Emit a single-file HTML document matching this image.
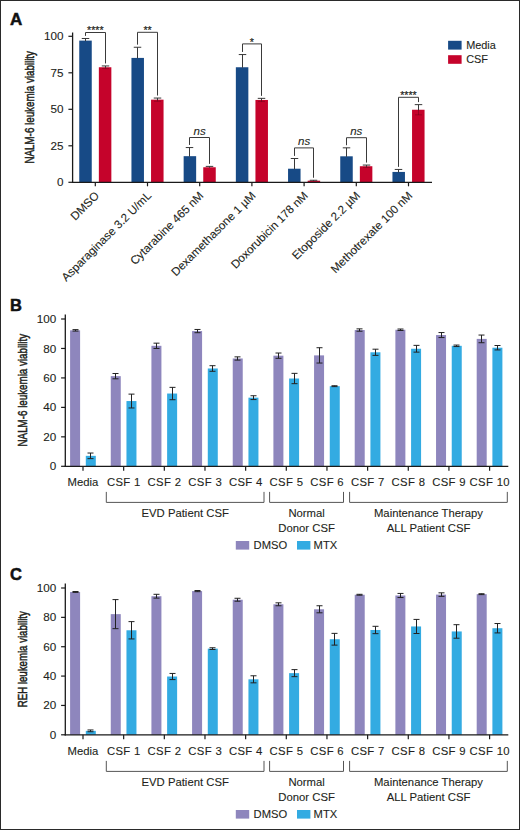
<!DOCTYPE html>
<html><head><meta charset="utf-8"><style>
html,body{margin:0;padding:0;background:#fff;}
body{width:520px;height:830px;overflow:hidden;position:relative;}
.frame{position:absolute;left:0;top:0;width:518px;height:828px;border:1px solid #2a2a2a;}
svg{position:absolute;left:0;top:0;}
text:not([stroke]){stroke:#231f20;stroke-width:0.1px;}
</style></head><body>
<svg width="520" height="830" viewBox="0 0 520 830">
<g id="A">
<text x="10" y="24.8" font-family='"Liberation Sans", sans-serif' font-weight="bold" font-size="17" fill="#111" stroke="#111" stroke-width="0.5">A</text>
<text transform="translate(34.2,107.3) rotate(-90)" text-anchor="middle" font-family='"Liberation Sans", sans-serif' font-size="13.3" fill="#231f20" stroke="#231f20" stroke-width="0.5" textLength="112.5" lengthAdjust="spacingAndGlyphs">NALM-6 leukemia viability</text>
<line x1="68.4" y1="182.30" x2="72.6" y2="182.30" stroke="#1a1a1a" stroke-width="1.2"/>
<text x="63.6" y="186.35" text-anchor="end" font-family='"Liberation Sans", sans-serif' font-size="11.7" fill="#231f20">0</text>
<line x1="68.4" y1="145.80" x2="72.6" y2="145.80" stroke="#1a1a1a" stroke-width="1.2"/>
<text x="63.6" y="149.85" text-anchor="end" font-family='"Liberation Sans", sans-serif' font-size="11.7" fill="#231f20">25</text>
<line x1="68.4" y1="109.30" x2="72.6" y2="109.30" stroke="#1a1a1a" stroke-width="1.2"/>
<text x="63.6" y="113.35" text-anchor="end" font-family='"Liberation Sans", sans-serif' font-size="11.7" fill="#231f20">50</text>
<line x1="68.4" y1="72.80" x2="72.6" y2="72.80" stroke="#1a1a1a" stroke-width="1.2"/>
<text x="63.6" y="76.85" text-anchor="end" font-family='"Liberation Sans", sans-serif' font-size="11.7" fill="#231f20">75</text>
<line x1="68.4" y1="36.30" x2="72.6" y2="36.30" stroke="#1a1a1a" stroke-width="1.2"/>
<text x="63.6" y="40.35" text-anchor="end" font-family='"Liberation Sans", sans-serif' font-size="11.7" fill="#231f20">100</text>
<rect x="79.25" y="40.61" width="12.50" height="141.69" fill="#174a86"/>
<rect x="98.85" y="67.25" width="12.50" height="115.05" fill="#c5032b"/>
<line x1="85.50" y1="38.49" x2="85.50" y2="41.11" stroke="#383838" stroke-width="1.0"/>
<line x1="81.75" y1="38.49" x2="89.25" y2="38.49" stroke="#383838" stroke-width="1.0"/>
<line x1="105.50" y1="65.94" x2="105.50" y2="67.75" stroke="#383838" stroke-width="1.0"/>
<line x1="101.75" y1="65.94" x2="109.25" y2="65.94" stroke="#383838" stroke-width="1.0"/>
<path d="M105.50,67.25 V68.57 M102.00,68.57 H109.00" stroke="#000" stroke-opacity="0.22" stroke-width="1" fill="none"/>
<path d="M85.50,35.89 V32.50 H105.50 V63.44" fill="none" stroke="#3a3a3a" stroke-width="1.0"/>
<text x="95.30" y="34.40" text-anchor="middle" font-family='"Liberation Sans", sans-serif' font-size="10.6" fill="#231f20" stroke="#231f20" stroke-width="0.2">****</text>
<line x1="95.30" y1="182.30" x2="95.30" y2="186.30" stroke="#1a1a1a" stroke-width="1.2"/>
<text transform="translate(99.80,196.30) rotate(-45)" text-anchor="end" font-family='"Liberation Sans", sans-serif' font-size="11.6" fill="#231f20">DMSO</text>
<rect x="131.45" y="57.91" width="12.50" height="124.39" fill="#174a86"/>
<rect x="151.05" y="99.66" width="12.50" height="82.64" fill="#c5032b"/>
<line x1="137.50" y1="47.25" x2="137.50" y2="58.41" stroke="#383838" stroke-width="1.0"/>
<line x1="133.75" y1="47.25" x2="141.25" y2="47.25" stroke="#383838" stroke-width="1.0"/>
<line x1="157.50" y1="98.06" x2="157.50" y2="100.16" stroke="#383838" stroke-width="1.0"/>
<line x1="153.75" y1="98.06" x2="161.25" y2="98.06" stroke="#383838" stroke-width="1.0"/>
<path d="M157.50,99.66 V101.27 M154.00,101.27 H161.00" stroke="#000" stroke-opacity="0.22" stroke-width="1" fill="none"/>
<path d="M137.50,44.65 V32.30 H157.50 V95.56" fill="none" stroke="#3a3a3a" stroke-width="1.0"/>
<text x="147.50" y="34.20" text-anchor="middle" font-family='"Liberation Sans", sans-serif' font-size="10.6" fill="#231f20" stroke="#231f20" stroke-width="0.2">**</text>
<line x1="147.50" y1="182.30" x2="147.50" y2="186.30" stroke="#1a1a1a" stroke-width="1.2"/>
<text transform="translate(152.00,196.30) rotate(-45)" text-anchor="end" font-family='"Liberation Sans", sans-serif' font-size="11.6" fill="#231f20">Asparaginase 3.2 U/mL</text>
<rect x="183.65" y="156.17" width="12.50" height="26.13" fill="#174a86"/>
<rect x="203.25" y="167.26" width="12.50" height="15.04" fill="#c5032b"/>
<line x1="189.50" y1="147.55" x2="189.50" y2="156.67" stroke="#383838" stroke-width="1.0"/>
<line x1="185.75" y1="147.55" x2="193.25" y2="147.55" stroke="#383838" stroke-width="1.0"/>
<line x1="209.50" y1="166.39" x2="209.50" y2="167.76" stroke="#383838" stroke-width="1.0"/>
<line x1="205.75" y1="166.39" x2="213.25" y2="166.39" stroke="#383838" stroke-width="1.0"/>
<path d="M189.50,144.95 V137.50 H209.50 V163.89" fill="none" stroke="#3a3a3a" stroke-width="1.0"/>
<text x="199.70" y="134.70" text-anchor="middle" font-family='"Liberation Sans", sans-serif' font-style="italic" font-size="11.5" fill="#231f20">ns</text>
<line x1="199.70" y1="182.30" x2="199.70" y2="186.30" stroke="#1a1a1a" stroke-width="1.2"/>
<text transform="translate(204.20,196.30) rotate(-45)" text-anchor="end" font-family='"Liberation Sans", sans-serif' font-size="11.6" fill="#231f20">Cytarabine 465 nM</text>
<rect x="235.85" y="67.25" width="12.50" height="115.05" fill="#174a86"/>
<rect x="255.45" y="99.96" width="12.50" height="82.34" fill="#c5032b"/>
<line x1="242.50" y1="54.55" x2="242.50" y2="67.75" stroke="#383838" stroke-width="1.0"/>
<line x1="238.75" y1="54.55" x2="246.25" y2="54.55" stroke="#383838" stroke-width="1.0"/>
<line x1="261.50" y1="98.35" x2="261.50" y2="100.46" stroke="#383838" stroke-width="1.0"/>
<line x1="257.75" y1="98.35" x2="265.25" y2="98.35" stroke="#383838" stroke-width="1.0"/>
<path d="M261.50,99.96 V101.56 M258.00,101.56 H265.00" stroke="#000" stroke-opacity="0.22" stroke-width="1" fill="none"/>
<path d="M242.50,51.95 V43.90 H261.50 V95.85" fill="none" stroke="#3a3a3a" stroke-width="1.0"/>
<text x="251.90" y="45.80" text-anchor="middle" font-family='"Liberation Sans", sans-serif' font-size="10.6" fill="#231f20" stroke="#231f20" stroke-width="0.2">*</text>
<line x1="251.90" y1="182.30" x2="251.90" y2="186.30" stroke="#1a1a1a" stroke-width="1.2"/>
<text transform="translate(256.40,196.30) rotate(-45)" text-anchor="end" font-family='"Liberation Sans", sans-serif' font-size="11.6" fill="#231f20">Dexamethasone 1 µM</text>
<rect x="288.05" y="168.72" width="12.50" height="13.58" fill="#174a86"/>
<rect x="307.65" y="180.69" width="12.50" height="1.61" fill="#c5032b"/>
<line x1="294.50" y1="158.50" x2="294.50" y2="169.22" stroke="#383838" stroke-width="1.0"/>
<line x1="290.75" y1="158.50" x2="298.25" y2="158.50" stroke="#383838" stroke-width="1.0"/>
<line x1="313.50" y1="180.26" x2="313.50" y2="181.19" stroke="#383838" stroke-width="1.0"/>
<line x1="309.75" y1="180.26" x2="317.25" y2="180.26" stroke="#383838" stroke-width="1.0"/>
<path d="M294.50,155.90 V147.90 H313.50 V177.76" fill="none" stroke="#3a3a3a" stroke-width="1.0"/>
<text x="304.10" y="145.10" text-anchor="middle" font-family='"Liberation Sans", sans-serif' font-style="italic" font-size="11.5" fill="#231f20">ns</text>
<line x1="304.10" y1="182.30" x2="304.10" y2="186.30" stroke="#1a1a1a" stroke-width="1.2"/>
<text transform="translate(308.60,196.30) rotate(-45)" text-anchor="end" font-family='"Liberation Sans", sans-serif' font-size="11.6" fill="#231f20">Doxorubicin 178 nM</text>
<rect x="340.25" y="156.31" width="12.50" height="25.99" fill="#174a86"/>
<rect x="359.85" y="166.24" width="12.50" height="16.06" fill="#c5032b"/>
<line x1="346.50" y1="147.84" x2="346.50" y2="156.81" stroke="#383838" stroke-width="1.0"/>
<line x1="342.75" y1="147.84" x2="350.25" y2="147.84" stroke="#383838" stroke-width="1.0"/>
<line x1="366.50" y1="165.07" x2="366.50" y2="166.74" stroke="#383838" stroke-width="1.0"/>
<line x1="362.75" y1="165.07" x2="370.25" y2="165.07" stroke="#383838" stroke-width="1.0"/>
<path d="M366.50,166.24 V167.41 M363.00,167.41 H370.00" stroke="#000" stroke-opacity="0.22" stroke-width="1" fill="none"/>
<path d="M346.50,145.24 V137.70 H366.50 V162.57" fill="none" stroke="#3a3a3a" stroke-width="1.0"/>
<text x="356.30" y="134.90" text-anchor="middle" font-family='"Liberation Sans", sans-serif' font-style="italic" font-size="11.5" fill="#231f20">ns</text>
<line x1="356.30" y1="182.30" x2="356.30" y2="186.30" stroke="#1a1a1a" stroke-width="1.2"/>
<text transform="translate(360.80,196.30) rotate(-45)" text-anchor="end" font-family='"Liberation Sans", sans-serif' font-size="11.6" fill="#231f20">Etoposide 2.2 µM</text>
<rect x="392.45" y="171.93" width="12.50" height="10.37" fill="#174a86"/>
<rect x="412.05" y="109.74" width="12.50" height="72.56" fill="#c5032b"/>
<line x1="398.50" y1="169.45" x2="398.50" y2="172.43" stroke="#383838" stroke-width="1.0"/>
<line x1="394.75" y1="169.45" x2="402.25" y2="169.45" stroke="#383838" stroke-width="1.0"/>
<line x1="418.50" y1="104.63" x2="418.50" y2="110.24" stroke="#383838" stroke-width="1.0"/>
<line x1="414.75" y1="104.63" x2="422.25" y2="104.63" stroke="#383838" stroke-width="1.0"/>
<path d="M418.50,109.74 V114.85 M415.00,114.85 H422.00" stroke="#000" stroke-opacity="0.22" stroke-width="1" fill="none"/>
<path d="M398.50,166.85 V97.30 H418.50 V102.13" fill="none" stroke="#3a3a3a" stroke-width="1.0"/>
<text x="408.50" y="99.20" text-anchor="middle" font-family='"Liberation Sans", sans-serif' font-size="10.6" fill="#231f20" stroke="#231f20" stroke-width="0.2">****</text>
<line x1="408.50" y1="182.30" x2="408.50" y2="186.30" stroke="#1a1a1a" stroke-width="1.2"/>
<text transform="translate(413.00,196.30) rotate(-45)" text-anchor="end" font-family='"Liberation Sans", sans-serif' font-size="11.6" fill="#231f20">Methotrexate 100 nM</text>
<line x1="72.6" y1="32.5" x2="72.6" y2="182.90" stroke="#1a1a1a" stroke-width="1.3"/>
<line x1="72.00" y1="182.30" x2="432" y2="182.30" stroke="#1a1a1a" stroke-width="1.3"/>
<rect x="448.1" y="40.8" width="13.5" height="8.8" fill="#174a86"/>
<rect x="448.1" y="55.2" width="13.5" height="8.6" fill="#c5032b"/>
<text x="466.2" y="49.0" font-family='"Liberation Sans", sans-serif' font-size="10.9" fill="#231f20">Media</text>
<text x="466.2" y="63.2" font-family='"Liberation Sans", sans-serif' font-size="10.9" fill="#231f20">CSF</text>
</g>
<g id="B">
<text x="10" y="311.20" font-family='"Liberation Sans", sans-serif' font-weight="bold" font-size="16.5" fill="#111" stroke="#111" stroke-width="0.5">B</text>
<text transform="translate(26.9,390.20) rotate(-90)" text-anchor="middle" font-family='"Liberation Sans", sans-serif' font-size="13.3" fill="#231f20" stroke="#231f20" stroke-width="0.5" textLength="112.5" lengthAdjust="spacingAndGlyphs">NALM-6 leukemia viability</text>
<line x1="61.1" y1="466.30" x2="65.3" y2="466.30" stroke="#1a1a1a" stroke-width="1.2"/>
<text x="56.3" y="470.35" text-anchor="end" font-family='"Liberation Sans", sans-serif' font-size="11.7" fill="#231f20">0</text>
<line x1="61.1" y1="436.84" x2="65.3" y2="436.84" stroke="#1a1a1a" stroke-width="1.2"/>
<text x="56.3" y="440.89" text-anchor="end" font-family='"Liberation Sans", sans-serif' font-size="11.7" fill="#231f20">20</text>
<line x1="61.1" y1="407.38" x2="65.3" y2="407.38" stroke="#1a1a1a" stroke-width="1.2"/>
<text x="56.3" y="411.43" text-anchor="end" font-family='"Liberation Sans", sans-serif' font-size="11.7" fill="#231f20">40</text>
<line x1="61.1" y1="377.92" x2="65.3" y2="377.92" stroke="#1a1a1a" stroke-width="1.2"/>
<text x="56.3" y="381.97" text-anchor="end" font-family='"Liberation Sans", sans-serif' font-size="11.7" fill="#231f20">60</text>
<line x1="61.1" y1="348.46" x2="65.3" y2="348.46" stroke="#1a1a1a" stroke-width="1.2"/>
<text x="56.3" y="352.51" text-anchor="end" font-family='"Liberation Sans", sans-serif' font-size="11.7" fill="#231f20">80</text>
<line x1="61.1" y1="319.00" x2="65.3" y2="319.00" stroke="#1a1a1a" stroke-width="1.2"/>
<text x="56.3" y="323.05" text-anchor="end" font-family='"Liberation Sans", sans-serif' font-size="11.7" fill="#231f20">100</text>
<rect x="70.10" y="330.34" width="10.00" height="135.96" fill="#8e86bd"/>
<rect x="85.80" y="455.84" width="10.00" height="10.46" fill="#33abe2"/>
<line x1="75.50" y1="329.61" x2="75.50" y2="331.08" stroke="#222" stroke-width="1"/>
<line x1="72.50" y1="329.61" x2="78.50" y2="329.61" stroke="#222" stroke-width="1"/>
<line x1="72.50" y1="331.08" x2="78.50" y2="331.08" stroke="#222" stroke-width="1"/>
<line x1="90.50" y1="453.04" x2="90.50" y2="458.64" stroke="#222" stroke-width="1"/>
<line x1="87.50" y1="453.04" x2="93.50" y2="453.04" stroke="#222" stroke-width="1"/>
<line x1="87.50" y1="458.64" x2="93.50" y2="458.64" stroke="#222" stroke-width="1"/>
<line x1="83.00" y1="466.30" x2="83.00" y2="470.80" stroke="#1a1a1a" stroke-width="1.2"/>
<text x="83.00" y="485.80" text-anchor="middle" font-family='"Liberation Sans", sans-serif' font-size="11.3" letter-spacing="0.0" fill="#231f20">Media</text>
<rect x="110.76" y="376.15" width="10.00" height="90.15" fill="#8e86bd"/>
<rect x="126.46" y="401.05" width="10.00" height="65.25" fill="#33abe2"/>
<line x1="115.50" y1="373.50" x2="115.50" y2="378.80" stroke="#222" stroke-width="1"/>
<line x1="112.50" y1="373.50" x2="118.50" y2="373.50" stroke="#222" stroke-width="1"/>
<line x1="112.50" y1="378.80" x2="118.50" y2="378.80" stroke="#222" stroke-width="1"/>
<line x1="131.50" y1="394.12" x2="131.50" y2="407.97" stroke="#222" stroke-width="1"/>
<line x1="128.50" y1="394.12" x2="134.50" y2="394.12" stroke="#222" stroke-width="1"/>
<line x1="128.50" y1="407.97" x2="134.50" y2="407.97" stroke="#222" stroke-width="1"/>
<line x1="123.66" y1="466.30" x2="123.66" y2="470.80" stroke="#1a1a1a" stroke-width="1.2"/>
<text x="123.83" y="485.80" text-anchor="middle" font-family='"Liberation Sans", sans-serif' font-size="11.3" letter-spacing="0.35" fill="#231f20">CSF 1</text>
<rect x="151.42" y="345.81" width="10.00" height="120.49" fill="#8e86bd"/>
<rect x="167.12" y="393.53" width="10.00" height="72.77" fill="#33abe2"/>
<line x1="156.50" y1="343.16" x2="156.50" y2="348.46" stroke="#222" stroke-width="1"/>
<line x1="153.50" y1="343.16" x2="159.50" y2="343.16" stroke="#222" stroke-width="1"/>
<line x1="153.50" y1="348.46" x2="159.50" y2="348.46" stroke="#222" stroke-width="1"/>
<line x1="172.50" y1="387.35" x2="172.50" y2="399.72" stroke="#222" stroke-width="1"/>
<line x1="169.50" y1="387.35" x2="175.50" y2="387.35" stroke="#222" stroke-width="1"/>
<line x1="169.50" y1="399.72" x2="175.50" y2="399.72" stroke="#222" stroke-width="1"/>
<line x1="164.32" y1="466.30" x2="164.32" y2="470.80" stroke="#1a1a1a" stroke-width="1.2"/>
<text x="164.50" y="485.80" text-anchor="middle" font-family='"Liberation Sans", sans-serif' font-size="11.3" letter-spacing="0.35" fill="#231f20">CSF 2</text>
<rect x="192.08" y="331.08" width="10.00" height="135.22" fill="#8e86bd"/>
<rect x="207.78" y="368.49" width="10.00" height="97.81" fill="#33abe2"/>
<line x1="197.50" y1="329.46" x2="197.50" y2="332.70" stroke="#222" stroke-width="1"/>
<line x1="194.50" y1="329.46" x2="200.50" y2="329.46" stroke="#222" stroke-width="1"/>
<line x1="194.50" y1="332.70" x2="200.50" y2="332.70" stroke="#222" stroke-width="1"/>
<line x1="212.50" y1="365.69" x2="212.50" y2="371.29" stroke="#222" stroke-width="1"/>
<line x1="209.50" y1="365.69" x2="215.50" y2="365.69" stroke="#222" stroke-width="1"/>
<line x1="209.50" y1="371.29" x2="215.50" y2="371.29" stroke="#222" stroke-width="1"/>
<line x1="204.98" y1="466.30" x2="204.98" y2="470.80" stroke="#1a1a1a" stroke-width="1.2"/>
<text x="205.16" y="485.80" text-anchor="middle" font-family='"Liberation Sans", sans-serif' font-size="11.3" letter-spacing="0.35" fill="#231f20">CSF 3</text>
<rect x="232.74" y="358.48" width="10.00" height="107.82" fill="#8e86bd"/>
<rect x="248.44" y="397.66" width="10.00" height="68.64" fill="#33abe2"/>
<line x1="237.50" y1="356.86" x2="237.50" y2="360.10" stroke="#222" stroke-width="1"/>
<line x1="234.50" y1="356.86" x2="240.50" y2="356.86" stroke="#222" stroke-width="1"/>
<line x1="234.50" y1="360.10" x2="240.50" y2="360.10" stroke="#222" stroke-width="1"/>
<line x1="253.50" y1="395.74" x2="253.50" y2="399.57" stroke="#222" stroke-width="1"/>
<line x1="250.50" y1="395.74" x2="256.50" y2="395.74" stroke="#222" stroke-width="1"/>
<line x1="250.50" y1="399.57" x2="256.50" y2="399.57" stroke="#222" stroke-width="1"/>
<line x1="245.64" y1="466.30" x2="245.64" y2="470.80" stroke="#1a1a1a" stroke-width="1.2"/>
<text x="245.81" y="485.80" text-anchor="middle" font-family='"Liberation Sans", sans-serif' font-size="11.3" letter-spacing="0.35" fill="#231f20">CSF 4</text>
<rect x="273.40" y="355.68" width="10.00" height="110.62" fill="#8e86bd"/>
<rect x="289.10" y="378.51" width="10.00" height="87.79" fill="#33abe2"/>
<line x1="278.50" y1="353.03" x2="278.50" y2="358.33" stroke="#222" stroke-width="1"/>
<line x1="275.50" y1="353.03" x2="281.50" y2="353.03" stroke="#222" stroke-width="1"/>
<line x1="275.50" y1="358.33" x2="281.50" y2="358.33" stroke="#222" stroke-width="1"/>
<line x1="294.50" y1="373.35" x2="294.50" y2="383.66" stroke="#222" stroke-width="1"/>
<line x1="291.50" y1="373.35" x2="297.50" y2="373.35" stroke="#222" stroke-width="1"/>
<line x1="291.50" y1="383.66" x2="297.50" y2="383.66" stroke="#222" stroke-width="1"/>
<line x1="286.30" y1="466.30" x2="286.30" y2="470.80" stroke="#1a1a1a" stroke-width="1.2"/>
<text x="286.47" y="485.80" text-anchor="middle" font-family='"Liberation Sans", sans-serif' font-size="11.3" letter-spacing="0.35" fill="#231f20">CSF 5</text>
<rect x="314.06" y="355.38" width="10.00" height="110.92" fill="#8e86bd"/>
<rect x="329.76" y="386.17" width="10.00" height="80.13" fill="#33abe2"/>
<line x1="319.50" y1="347.72" x2="319.50" y2="363.04" stroke="#222" stroke-width="1"/>
<line x1="316.50" y1="347.72" x2="322.50" y2="347.72" stroke="#222" stroke-width="1"/>
<line x1="316.50" y1="363.04" x2="322.50" y2="363.04" stroke="#222" stroke-width="1"/>
<line x1="334.50" y1="385.73" x2="334.50" y2="386.61" stroke="#222" stroke-width="1"/>
<line x1="331.50" y1="385.73" x2="337.50" y2="385.73" stroke="#222" stroke-width="1"/>
<line x1="331.50" y1="386.61" x2="337.50" y2="386.61" stroke="#222" stroke-width="1"/>
<line x1="326.96" y1="466.30" x2="326.96" y2="470.80" stroke="#1a1a1a" stroke-width="1.2"/>
<text x="327.13" y="485.80" text-anchor="middle" font-family='"Liberation Sans", sans-serif' font-size="11.3" letter-spacing="0.35" fill="#231f20">CSF 6</text>
<rect x="354.72" y="330.05" width="10.00" height="136.25" fill="#8e86bd"/>
<rect x="370.42" y="352.29" width="10.00" height="114.01" fill="#33abe2"/>
<line x1="359.50" y1="328.87" x2="359.50" y2="331.23" stroke="#222" stroke-width="1"/>
<line x1="356.50" y1="328.87" x2="362.50" y2="328.87" stroke="#222" stroke-width="1"/>
<line x1="356.50" y1="331.23" x2="362.50" y2="331.23" stroke="#222" stroke-width="1"/>
<line x1="375.50" y1="349.20" x2="375.50" y2="355.38" stroke="#222" stroke-width="1"/>
<line x1="372.50" y1="349.20" x2="378.50" y2="349.20" stroke="#222" stroke-width="1"/>
<line x1="372.50" y1="355.38" x2="378.50" y2="355.38" stroke="#222" stroke-width="1"/>
<line x1="367.62" y1="466.30" x2="367.62" y2="470.80" stroke="#1a1a1a" stroke-width="1.2"/>
<text x="367.80" y="485.80" text-anchor="middle" font-family='"Liberation Sans", sans-serif' font-size="11.3" letter-spacing="0.35" fill="#231f20">CSF 7</text>
<rect x="395.38" y="329.75" width="10.00" height="136.55" fill="#8e86bd"/>
<rect x="411.08" y="348.75" width="10.00" height="117.55" fill="#33abe2"/>
<line x1="400.50" y1="329.02" x2="400.50" y2="330.49" stroke="#222" stroke-width="1"/>
<line x1="397.50" y1="329.02" x2="403.50" y2="329.02" stroke="#222" stroke-width="1"/>
<line x1="397.50" y1="330.49" x2="403.50" y2="330.49" stroke="#222" stroke-width="1"/>
<line x1="416.50" y1="345.37" x2="416.50" y2="352.14" stroke="#222" stroke-width="1"/>
<line x1="413.50" y1="345.37" x2="419.50" y2="345.37" stroke="#222" stroke-width="1"/>
<line x1="413.50" y1="352.14" x2="419.50" y2="352.14" stroke="#222" stroke-width="1"/>
<line x1="408.28" y1="466.30" x2="408.28" y2="470.80" stroke="#1a1a1a" stroke-width="1.2"/>
<text x="408.45" y="485.80" text-anchor="middle" font-family='"Liberation Sans", sans-serif' font-size="11.3" letter-spacing="0.35" fill="#231f20">CSF 8</text>
<rect x="436.04" y="335.06" width="10.00" height="131.24" fill="#8e86bd"/>
<rect x="451.74" y="345.81" width="10.00" height="120.49" fill="#33abe2"/>
<line x1="441.50" y1="332.55" x2="441.50" y2="337.56" stroke="#222" stroke-width="1"/>
<line x1="438.50" y1="332.55" x2="444.50" y2="332.55" stroke="#222" stroke-width="1"/>
<line x1="438.50" y1="337.56" x2="444.50" y2="337.56" stroke="#222" stroke-width="1"/>
<line x1="456.50" y1="345.07" x2="456.50" y2="346.55" stroke="#222" stroke-width="1"/>
<line x1="453.50" y1="345.07" x2="459.50" y2="345.07" stroke="#222" stroke-width="1"/>
<line x1="453.50" y1="346.55" x2="459.50" y2="346.55" stroke="#222" stroke-width="1"/>
<line x1="448.94" y1="466.30" x2="448.94" y2="470.80" stroke="#1a1a1a" stroke-width="1.2"/>
<text x="449.11" y="485.80" text-anchor="middle" font-family='"Liberation Sans", sans-serif' font-size="11.3" letter-spacing="0.35" fill="#231f20">CSF 9</text>
<rect x="476.70" y="338.89" width="10.00" height="127.41" fill="#8e86bd"/>
<rect x="492.40" y="347.72" width="10.00" height="118.58" fill="#33abe2"/>
<line x1="481.50" y1="335.06" x2="481.50" y2="342.72" stroke="#222" stroke-width="1"/>
<line x1="478.50" y1="335.06" x2="484.50" y2="335.06" stroke="#222" stroke-width="1"/>
<line x1="478.50" y1="342.72" x2="484.50" y2="342.72" stroke="#222" stroke-width="1"/>
<line x1="497.50" y1="345.51" x2="497.50" y2="349.93" stroke="#222" stroke-width="1"/>
<line x1="494.50" y1="345.51" x2="500.50" y2="345.51" stroke="#222" stroke-width="1"/>
<line x1="494.50" y1="349.93" x2="500.50" y2="349.93" stroke="#222" stroke-width="1"/>
<line x1="489.60" y1="466.30" x2="489.60" y2="470.80" stroke="#1a1a1a" stroke-width="1.2"/>
<text x="489.77" y="485.80" text-anchor="middle" font-family='"Liberation Sans", sans-serif' font-size="11.3" letter-spacing="0.35" fill="#231f20">CSF 10</text>
<line x1="65.3" y1="314.50" x2="65.3" y2="466.90" stroke="#1a1a1a" stroke-width="1.3"/>
<line x1="64.70" y1="466.30" x2="508.3" y2="466.30" stroke="#1a1a1a" stroke-width="1.3"/>
<path d="M106.3,491.90 V502.40 H264.0 V491.90" fill="none" stroke="#555" stroke-width="1"/>
<path d="M269.6,491.90 V502.40 H343.5 V491.90" fill="none" stroke="#555" stroke-width="1"/>
<path d="M349.6,491.90 V502.40 H507.3 V491.90" fill="none" stroke="#555" stroke-width="1"/>
<text x="185.2" y="516.60" text-anchor="middle" font-family='"Liberation Sans", sans-serif' font-size="11.3" fill="#231f20">EVD Patient CSF</text>
<text x="306.6" y="517.40" text-anchor="middle" font-family='"Liberation Sans", sans-serif' font-size="11.3" fill="#231f20">Normal</text>
<text x="306.6" y="531.60" text-anchor="middle" font-family='"Liberation Sans", sans-serif' font-size="11.3" fill="#231f20">Donor CSF</text>
<text x="428.5" y="517.40" text-anchor="middle" font-family='"Liberation Sans", sans-serif' font-size="11.3" fill="#231f20">Maintenance Therapy</text>
<text x="428.5" y="531.60" text-anchor="middle" font-family='"Liberation Sans", sans-serif' font-size="11.3" fill="#231f20">ALL Patient CSF</text>
<rect x="235.8" y="541.00" width="13.4" height="8.6" fill="#8e86bd"/>
<text x="253.6" y="549.30" font-family='"Liberation Sans", sans-serif' font-size="11.2" fill="#231f20">DMSO</text>
<rect x="297" y="541.00" width="13.4" height="8.6" fill="#33abe2"/>
<text x="313.6" y="549.30" font-family='"Liberation Sans", sans-serif' font-size="11.2" fill="#231f20">MTX</text>
</g>
<g id="C">
<text x="10" y="580.20" font-family='"Liberation Sans", sans-serif' font-weight="bold" font-size="16.5" fill="#111" stroke="#111" stroke-width="0.5">C</text>
<text transform="translate(26.9,659.20) rotate(-90)" text-anchor="middle" font-family='"Liberation Sans", sans-serif' font-size="13.3" fill="#231f20" stroke="#231f20" stroke-width="0.5" textLength="96" lengthAdjust="spacingAndGlyphs">REH leukemia viability</text>
<line x1="61.1" y1="734.80" x2="65.3" y2="734.80" stroke="#1a1a1a" stroke-width="1.2"/>
<text x="56.3" y="738.85" text-anchor="end" font-family='"Liberation Sans", sans-serif' font-size="11.7" fill="#231f20">0</text>
<line x1="61.1" y1="705.44" x2="65.3" y2="705.44" stroke="#1a1a1a" stroke-width="1.2"/>
<text x="56.3" y="709.49" text-anchor="end" font-family='"Liberation Sans", sans-serif' font-size="11.7" fill="#231f20">20</text>
<line x1="61.1" y1="676.08" x2="65.3" y2="676.08" stroke="#1a1a1a" stroke-width="1.2"/>
<text x="56.3" y="680.13" text-anchor="end" font-family='"Liberation Sans", sans-serif' font-size="11.7" fill="#231f20">40</text>
<line x1="61.1" y1="646.72" x2="65.3" y2="646.72" stroke="#1a1a1a" stroke-width="1.2"/>
<text x="56.3" y="650.77" text-anchor="end" font-family='"Liberation Sans", sans-serif' font-size="11.7" fill="#231f20">60</text>
<line x1="61.1" y1="617.36" x2="65.3" y2="617.36" stroke="#1a1a1a" stroke-width="1.2"/>
<text x="56.3" y="621.41" text-anchor="end" font-family='"Liberation Sans", sans-serif' font-size="11.7" fill="#231f20">80</text>
<line x1="61.1" y1="588.00" x2="65.3" y2="588.00" stroke="#1a1a1a" stroke-width="1.2"/>
<text x="56.3" y="592.05" text-anchor="end" font-family='"Liberation Sans", sans-serif' font-size="11.7" fill="#231f20">100</text>
<rect x="70.10" y="591.96" width="10.00" height="142.84" fill="#8e86bd"/>
<rect x="85.80" y="730.84" width="10.00" height="3.96" fill="#33abe2"/>
<line x1="75.50" y1="591.52" x2="75.50" y2="592.40" stroke="#222" stroke-width="1"/>
<line x1="72.50" y1="591.52" x2="78.50" y2="591.52" stroke="#222" stroke-width="1"/>
<line x1="72.50" y1="592.40" x2="78.50" y2="592.40" stroke="#222" stroke-width="1"/>
<line x1="90.50" y1="729.96" x2="90.50" y2="731.72" stroke="#222" stroke-width="1"/>
<line x1="87.50" y1="729.96" x2="93.50" y2="729.96" stroke="#222" stroke-width="1"/>
<line x1="87.50" y1="731.72" x2="93.50" y2="731.72" stroke="#222" stroke-width="1"/>
<line x1="83.00" y1="734.80" x2="83.00" y2="739.30" stroke="#1a1a1a" stroke-width="1.2"/>
<text x="83.00" y="754.80" text-anchor="middle" font-family='"Liberation Sans", sans-serif' font-size="11.3" letter-spacing="0.0" fill="#231f20">Media</text>
<rect x="110.76" y="614.13" width="10.00" height="120.67" fill="#8e86bd"/>
<rect x="126.46" y="630.28" width="10.00" height="104.52" fill="#33abe2"/>
<line x1="115.50" y1="599.60" x2="115.50" y2="628.66" stroke="#222" stroke-width="1"/>
<line x1="112.50" y1="599.60" x2="118.50" y2="599.60" stroke="#222" stroke-width="1"/>
<line x1="112.50" y1="628.66" x2="118.50" y2="628.66" stroke="#222" stroke-width="1"/>
<line x1="131.50" y1="621.62" x2="131.50" y2="638.94" stroke="#222" stroke-width="1"/>
<line x1="128.50" y1="621.62" x2="134.50" y2="621.62" stroke="#222" stroke-width="1"/>
<line x1="128.50" y1="638.94" x2="134.50" y2="638.94" stroke="#222" stroke-width="1"/>
<line x1="123.66" y1="734.80" x2="123.66" y2="739.30" stroke="#1a1a1a" stroke-width="1.2"/>
<text x="123.83" y="754.80" text-anchor="middle" font-family='"Liberation Sans", sans-serif' font-size="11.3" letter-spacing="0.35" fill="#231f20">CSF 1</text>
<rect x="151.42" y="596.22" width="10.00" height="138.58" fill="#8e86bd"/>
<rect x="167.12" y="676.52" width="10.00" height="58.28" fill="#33abe2"/>
<line x1="156.50" y1="594.31" x2="156.50" y2="598.13" stroke="#222" stroke-width="1"/>
<line x1="153.50" y1="594.31" x2="159.50" y2="594.31" stroke="#222" stroke-width="1"/>
<line x1="153.50" y1="598.13" x2="159.50" y2="598.13" stroke="#222" stroke-width="1"/>
<line x1="172.50" y1="673.44" x2="172.50" y2="679.60" stroke="#222" stroke-width="1"/>
<line x1="169.50" y1="673.44" x2="175.50" y2="673.44" stroke="#222" stroke-width="1"/>
<line x1="169.50" y1="679.60" x2="175.50" y2="679.60" stroke="#222" stroke-width="1"/>
<line x1="164.32" y1="734.80" x2="164.32" y2="739.30" stroke="#1a1a1a" stroke-width="1.2"/>
<text x="164.50" y="754.80" text-anchor="middle" font-family='"Liberation Sans", sans-serif' font-size="11.3" letter-spacing="0.35" fill="#231f20">CSF 2</text>
<rect x="192.08" y="591.08" width="10.00" height="143.72" fill="#8e86bd"/>
<rect x="207.78" y="648.63" width="10.00" height="86.17" fill="#33abe2"/>
<line x1="197.50" y1="590.50" x2="197.50" y2="591.67" stroke="#222" stroke-width="1"/>
<line x1="194.50" y1="590.50" x2="200.50" y2="590.50" stroke="#222" stroke-width="1"/>
<line x1="194.50" y1="591.67" x2="200.50" y2="591.67" stroke="#222" stroke-width="1"/>
<line x1="212.50" y1="647.75" x2="212.50" y2="649.51" stroke="#222" stroke-width="1"/>
<line x1="209.50" y1="647.75" x2="215.50" y2="647.75" stroke="#222" stroke-width="1"/>
<line x1="209.50" y1="649.51" x2="215.50" y2="649.51" stroke="#222" stroke-width="1"/>
<line x1="204.98" y1="734.80" x2="204.98" y2="739.30" stroke="#1a1a1a" stroke-width="1.2"/>
<text x="205.16" y="754.80" text-anchor="middle" font-family='"Liberation Sans", sans-serif' font-size="11.3" letter-spacing="0.35" fill="#231f20">CSF 3</text>
<rect x="232.74" y="599.74" width="10.00" height="135.06" fill="#8e86bd"/>
<rect x="248.44" y="679.31" width="10.00" height="55.49" fill="#33abe2"/>
<line x1="237.50" y1="598.28" x2="237.50" y2="601.21" stroke="#222" stroke-width="1"/>
<line x1="234.50" y1="598.28" x2="240.50" y2="598.28" stroke="#222" stroke-width="1"/>
<line x1="234.50" y1="601.21" x2="240.50" y2="601.21" stroke="#222" stroke-width="1"/>
<line x1="253.50" y1="675.79" x2="253.50" y2="682.83" stroke="#222" stroke-width="1"/>
<line x1="250.50" y1="675.79" x2="256.50" y2="675.79" stroke="#222" stroke-width="1"/>
<line x1="250.50" y1="682.83" x2="256.50" y2="682.83" stroke="#222" stroke-width="1"/>
<line x1="245.64" y1="734.80" x2="245.64" y2="739.30" stroke="#1a1a1a" stroke-width="1.2"/>
<text x="245.81" y="754.80" text-anchor="middle" font-family='"Liberation Sans", sans-serif' font-size="11.3" letter-spacing="0.35" fill="#231f20">CSF 4</text>
<rect x="273.40" y="604.29" width="10.00" height="130.51" fill="#8e86bd"/>
<rect x="289.10" y="673.14" width="10.00" height="61.66" fill="#33abe2"/>
<line x1="278.50" y1="602.83" x2="278.50" y2="605.76" stroke="#222" stroke-width="1"/>
<line x1="275.50" y1="602.83" x2="281.50" y2="602.83" stroke="#222" stroke-width="1"/>
<line x1="275.50" y1="605.76" x2="281.50" y2="605.76" stroke="#222" stroke-width="1"/>
<line x1="294.50" y1="669.62" x2="294.50" y2="676.67" stroke="#222" stroke-width="1"/>
<line x1="291.50" y1="669.62" x2="297.50" y2="669.62" stroke="#222" stroke-width="1"/>
<line x1="291.50" y1="676.67" x2="297.50" y2="676.67" stroke="#222" stroke-width="1"/>
<line x1="286.30" y1="734.80" x2="286.30" y2="739.30" stroke="#1a1a1a" stroke-width="1.2"/>
<text x="286.47" y="754.80" text-anchor="middle" font-family='"Liberation Sans", sans-serif' font-size="11.3" letter-spacing="0.35" fill="#231f20">CSF 5</text>
<rect x="314.06" y="609.29" width="10.00" height="125.51" fill="#8e86bd"/>
<rect x="329.76" y="639.23" width="10.00" height="95.57" fill="#33abe2"/>
<line x1="319.50" y1="605.76" x2="319.50" y2="612.81" stroke="#222" stroke-width="1"/>
<line x1="316.50" y1="605.76" x2="322.50" y2="605.76" stroke="#222" stroke-width="1"/>
<line x1="316.50" y1="612.81" x2="322.50" y2="612.81" stroke="#222" stroke-width="1"/>
<line x1="334.50" y1="633.36" x2="334.50" y2="645.11" stroke="#222" stroke-width="1"/>
<line x1="331.50" y1="633.36" x2="337.50" y2="633.36" stroke="#222" stroke-width="1"/>
<line x1="331.50" y1="645.11" x2="337.50" y2="645.11" stroke="#222" stroke-width="1"/>
<line x1="326.96" y1="734.80" x2="326.96" y2="739.30" stroke="#1a1a1a" stroke-width="1.2"/>
<text x="327.13" y="754.80" text-anchor="middle" font-family='"Liberation Sans", sans-serif' font-size="11.3" letter-spacing="0.35" fill="#231f20">CSF 6</text>
<rect x="354.72" y="594.75" width="10.00" height="140.05" fill="#8e86bd"/>
<rect x="370.42" y="629.98" width="10.00" height="104.82" fill="#33abe2"/>
<line x1="359.50" y1="594.31" x2="359.50" y2="595.19" stroke="#222" stroke-width="1"/>
<line x1="356.50" y1="594.31" x2="362.50" y2="594.31" stroke="#222" stroke-width="1"/>
<line x1="356.50" y1="595.19" x2="362.50" y2="595.19" stroke="#222" stroke-width="1"/>
<line x1="375.50" y1="626.31" x2="375.50" y2="633.65" stroke="#222" stroke-width="1"/>
<line x1="372.50" y1="626.31" x2="378.50" y2="626.31" stroke="#222" stroke-width="1"/>
<line x1="372.50" y1="633.65" x2="378.50" y2="633.65" stroke="#222" stroke-width="1"/>
<line x1="367.62" y1="734.80" x2="367.62" y2="739.30" stroke="#1a1a1a" stroke-width="1.2"/>
<text x="367.80" y="754.80" text-anchor="middle" font-family='"Liberation Sans", sans-serif' font-size="11.3" letter-spacing="0.35" fill="#231f20">CSF 7</text>
<rect x="395.38" y="595.49" width="10.00" height="139.31" fill="#8e86bd"/>
<rect x="411.08" y="626.46" width="10.00" height="108.34" fill="#33abe2"/>
<line x1="400.50" y1="593.43" x2="400.50" y2="597.54" stroke="#222" stroke-width="1"/>
<line x1="397.50" y1="593.43" x2="403.50" y2="593.43" stroke="#222" stroke-width="1"/>
<line x1="397.50" y1="597.54" x2="403.50" y2="597.54" stroke="#222" stroke-width="1"/>
<line x1="416.50" y1="619.42" x2="416.50" y2="633.51" stroke="#222" stroke-width="1"/>
<line x1="413.50" y1="619.42" x2="419.50" y2="619.42" stroke="#222" stroke-width="1"/>
<line x1="413.50" y1="633.51" x2="419.50" y2="633.51" stroke="#222" stroke-width="1"/>
<line x1="408.28" y1="734.80" x2="408.28" y2="739.30" stroke="#1a1a1a" stroke-width="1.2"/>
<text x="408.45" y="754.80" text-anchor="middle" font-family='"Liberation Sans", sans-serif' font-size="11.3" letter-spacing="0.35" fill="#231f20">CSF 8</text>
<rect x="436.04" y="594.61" width="10.00" height="140.19" fill="#8e86bd"/>
<rect x="451.74" y="631.45" width="10.00" height="103.35" fill="#33abe2"/>
<line x1="441.50" y1="592.84" x2="441.50" y2="596.37" stroke="#222" stroke-width="1"/>
<line x1="438.50" y1="592.84" x2="444.50" y2="592.84" stroke="#222" stroke-width="1"/>
<line x1="438.50" y1="596.37" x2="444.50" y2="596.37" stroke="#222" stroke-width="1"/>
<line x1="456.50" y1="624.70" x2="456.50" y2="638.21" stroke="#222" stroke-width="1"/>
<line x1="453.50" y1="624.70" x2="459.50" y2="624.70" stroke="#222" stroke-width="1"/>
<line x1="453.50" y1="638.21" x2="459.50" y2="638.21" stroke="#222" stroke-width="1"/>
<line x1="448.94" y1="734.80" x2="448.94" y2="739.30" stroke="#1a1a1a" stroke-width="1.2"/>
<text x="449.11" y="754.80" text-anchor="middle" font-family='"Liberation Sans", sans-serif' font-size="11.3" letter-spacing="0.35" fill="#231f20">CSF 9</text>
<rect x="476.70" y="594.17" width="10.00" height="140.63" fill="#8e86bd"/>
<rect x="492.40" y="628.22" width="10.00" height="106.58" fill="#33abe2"/>
<line x1="481.50" y1="593.73" x2="481.50" y2="594.61" stroke="#222" stroke-width="1"/>
<line x1="478.50" y1="593.73" x2="484.50" y2="593.73" stroke="#222" stroke-width="1"/>
<line x1="478.50" y1="594.61" x2="484.50" y2="594.61" stroke="#222" stroke-width="1"/>
<line x1="497.50" y1="623.53" x2="497.50" y2="632.92" stroke="#222" stroke-width="1"/>
<line x1="494.50" y1="623.53" x2="500.50" y2="623.53" stroke="#222" stroke-width="1"/>
<line x1="494.50" y1="632.92" x2="500.50" y2="632.92" stroke="#222" stroke-width="1"/>
<line x1="489.60" y1="734.80" x2="489.60" y2="739.30" stroke="#1a1a1a" stroke-width="1.2"/>
<text x="489.77" y="754.80" text-anchor="middle" font-family='"Liberation Sans", sans-serif' font-size="11.3" letter-spacing="0.35" fill="#231f20">CSF 10</text>
<line x1="65.3" y1="583.50" x2="65.3" y2="735.40" stroke="#1a1a1a" stroke-width="1.3"/>
<line x1="64.70" y1="734.80" x2="508.3" y2="734.80" stroke="#1a1a1a" stroke-width="1.3"/>
<path d="M106.3,760.90 V771.40 H264.0 V760.90" fill="none" stroke="#555" stroke-width="1"/>
<path d="M269.6,760.90 V771.40 H343.5 V760.90" fill="none" stroke="#555" stroke-width="1"/>
<path d="M349.6,760.90 V771.40 H507.3 V760.90" fill="none" stroke="#555" stroke-width="1"/>
<text x="185.2" y="785.60" text-anchor="middle" font-family='"Liberation Sans", sans-serif' font-size="11.3" fill="#231f20">EVD Patient CSF</text>
<text x="306.6" y="786.40" text-anchor="middle" font-family='"Liberation Sans", sans-serif' font-size="11.3" fill="#231f20">Normal</text>
<text x="306.6" y="800.60" text-anchor="middle" font-family='"Liberation Sans", sans-serif' font-size="11.3" fill="#231f20">Donor CSF</text>
<text x="428.5" y="786.40" text-anchor="middle" font-family='"Liberation Sans", sans-serif' font-size="11.3" fill="#231f20">Maintenance Therapy</text>
<text x="428.5" y="800.60" text-anchor="middle" font-family='"Liberation Sans", sans-serif' font-size="11.3" fill="#231f20">ALL Patient CSF</text>
<rect x="235.8" y="810.00" width="13.4" height="8.6" fill="#8e86bd"/>
<text x="253.6" y="818.30" font-family='"Liberation Sans", sans-serif' font-size="11.2" fill="#231f20">DMSO</text>
<rect x="297" y="810.00" width="13.4" height="8.6" fill="#33abe2"/>
<text x="313.6" y="818.30" font-family='"Liberation Sans", sans-serif' font-size="11.2" fill="#231f20">MTX</text>
</g>
</svg>
<div class="frame"></div>
</body></html>
